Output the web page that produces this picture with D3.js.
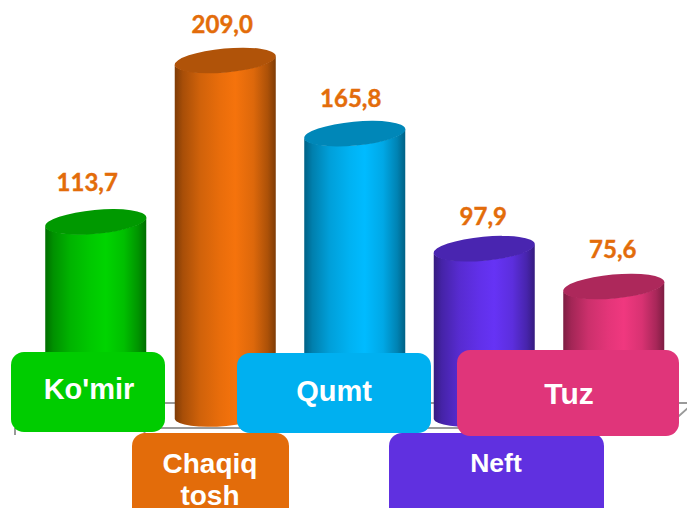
<!DOCTYPE html>
<html><head><meta charset="utf-8">
<script src="https://cdn.jsdelivr.net/npm/d3@7"></script>
<style>html,body{margin:0;padding:0;background:#fff}svg{display:block}</style>
</head><body><svg id="c" width="687" height="508"></svg>
<script>
const categories = ["Ko'mir", "Chaqiq tosh", "Qumt", "Neft", "Tuz"];
const values = [113.7, 209.0, 165.8, 97.9, 75.6];
const baseColors = ["#00D400", "#F5730C", "#00BBFF", "#6633F5", "#F0387F"];
const boxColors = ["#00CC00", "#E36C0A", "#00B0F0", "#6030E0", "#E0357A"];
const labelColor = "#E36C0A";
// layout only: label box rectangles [x, y, w, h], text line centres
const boxLayout = [
  {x:11,y:352,w:154,h:80,tx:89,fs:29,lines:[["Ko'mir",389]]},
  {x:132,y:433,w:157,h:90,tx:210,fs:28,lines:[["Chaqiq",463],["tosh",495]]},
  {x:237,y:353,w:194,h:80,tx:334,fs:29,lines:[["Qumt",391]]},
  {x:389,y:433,w:215,h:90,tx:496,fs:26.5,lines:[["Neft",462]]},
  {x:457,y:350,w:222,h:86,tx:569,fs:30,lines:[["Tuz",393]]}
];
const labelShift = [[-8.5,-31],[-3,-28],[-4,-26.5],[-1,-23.5],[-1,-28]];

const svg = d3.select("#c");
const x = d3.scaleBand().domain(categories).range([31, 678.5]).paddingInner(0.22).paddingOuter(0.11);
const y = d3.scaleLinear().domain([0, 209]).range([414.5, 60.5]);
const fmt = d3.formatLocale({decimal:",",thousands:" ",grouping:[3],currency:["",""]}).format(".1f");

const defs = svg.append("defs");
categories.forEach((c,i)=>{
  const col = d3.color(baseColors[i]);
  const g = defs.append("linearGradient").attr("id","g"+i);
  [[0,0.52],[0.08,0.68],[0.25,0.85],[0.45,0.95],[0.6,1],[0.78,0.9],[0.92,0.7],[1,0.52]].forEach(([o,k])=>{
    g.append("stop").attr("offset",o).attr("stop-color",d3.rgb(col.r*k,col.g*k,col.b*k).formatHex());
  });
});

// floor
const floor = svg.append("g").attr("stroke","#9a9a9a").attr("fill","none").attr("stroke-width",2);
const f0 = x.range()[0], f1 = x.range()[1];
floor.append("path").attr("d",`M${f0-16},428H${f1-13}L${f1+16},402`);
floor.append("path").attr("d",`M${f0},403H${f1+20}`);
const tickG = svg.append("g").attr("stroke","#9a9a9a").attr("stroke-width",2);
tickG.selectAll("line").data(d3.range(6)).join("line")
  .attr("x1",d=>f0-16+d*129.5).attr("x2",d=>f0-16+d*129.5).attr("y1",428).attr("y2",435);

// cylinders
const ry = 12, dy = 4.6, angle = -5.2;
const cyl = svg.append("g").selectAll("g").data(categories).join("g");
cyl.each(function(c,i){
  const g = d3.select(this);
  const xl = x(c), xr = xl + x.bandwidth(), rx = x.bandwidth()/2 * 1.005;
  const top = y(values[i]), base = y(0);
  g.append("path")
    .attr("d",`M${xl},${top+dy}L${xl},${base+dy}A${rx},${ry} ${angle} 0 0 ${xr},${base-dy}L${xr},${top-dy}A${rx},${ry} ${angle} 0 1 ${xl},${top+dy}Z`)
    .attr("fill",`url(#g${i})`);
  const col = d3.color(baseColors[i]);
  g.append("ellipse").attr("cx",(xl+xr)/2).attr("cy",top).attr("rx",rx).attr("ry",ry)
    .attr("transform",`rotate(${angle} ${(xl+xr)/2} ${top})`)
    .attr("fill",d3.rgb(col.r*0.72,col.g*0.72,col.b*0.72).formatHex());
  g.append("text").attr("x",(xl+xr)/2+labelShift[i][0]).attr("y",top+labelShift[i][1])
    .attr("text-anchor","middle").attr("font-family","Lato, 'Open Sans', sans-serif")
    .attr("font-weight",700).attr("font-size",24).attr("fill",labelColor)
    .attr("stroke",labelColor).attr("stroke-width",0.4).text(fmt(values[i]));
});

// category boxes
const order = [1,3,0,2,4];
const boxes = svg.append("g").selectAll("g").data(order).join("g");
boxes.each(function(i){
  const b = boxLayout[i], g = d3.select(this);
  g.append("rect").attr("x",b.x).attr("y",b.y).attr("width",b.w).attr("height",b.h).attr("rx",13).attr("fill",boxColors[i]);
  b.lines.forEach(([t,cy])=>{
    g.append("text").attr("x",b.tx).attr("y",cy).attr("dy","0.36em").attr("text-anchor","middle")
      .attr("font-family","'Liberation Sans', Arial, sans-serif").attr("font-weight",700)
      .attr("font-size",b.fs).attr("fill","#fff").text(t);
  });
});
</script></body></html>
